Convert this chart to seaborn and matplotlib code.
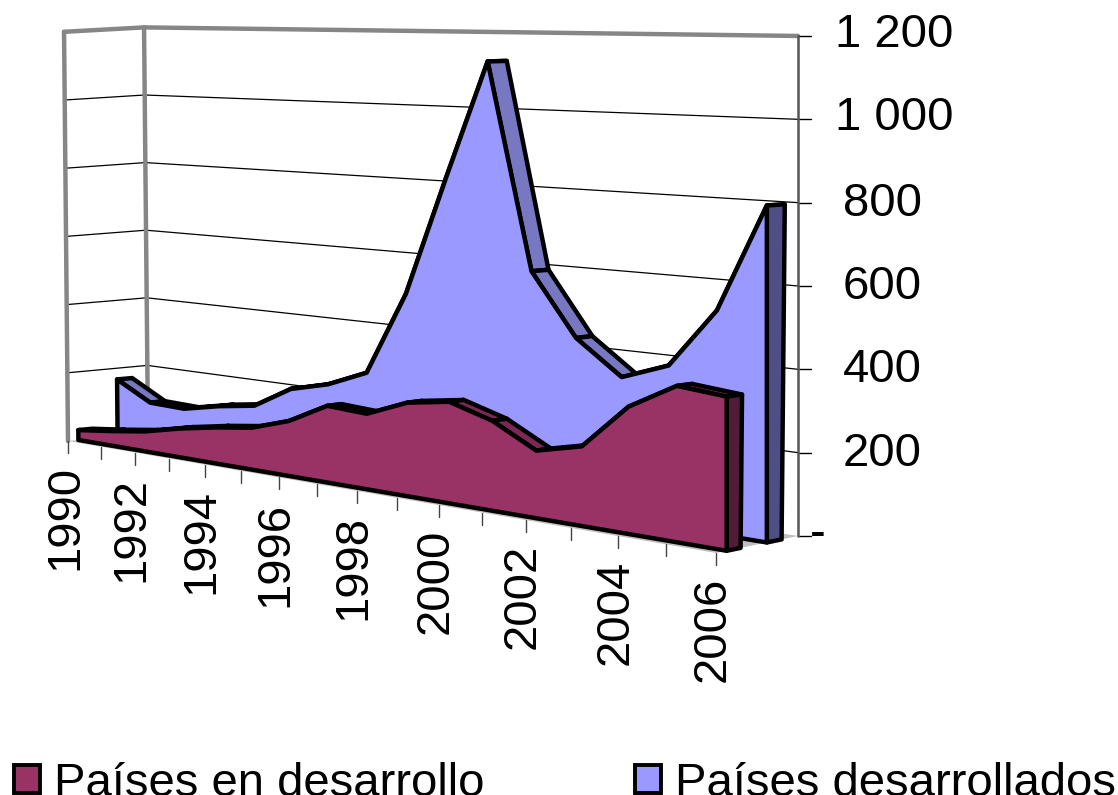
"""
Inversion extranjera: paises en desarrollo y desarrollados (area 3D estilo Excel).
"""

import numpy as np
import matplotlib
matplotlib.use('Agg')
import matplotlib.pyplot as plt
from matplotlib.patches import Patch, Polygon
import seaborn as sns

# -------------------------------------------------------------------
# 1. DATA
# -------------------------------------------------------------------
years = list(range(1990, 2007))
developing = [29, 42, 57, 81, 100, 115, 149, 205, 199, 243, 260, 227, 168, 195, 307, 371, 360]
developed = [167, 113, 110, 132, 148, 209, 236, 281, 504, 820, 1127, 594, 436, 351, 393, 539, 799]
value_ticks = [0, 200, 400, 600, 800, 1000, 1200]
value_labels = ['-', '200', '400', '600', '800', '1 000', '1 200']
series_names = ['Países en desarrollo', 'Países desarrollados']

PURPLE = '#993366'
PURPLE_TOP = '#7a2952'
PURPLE_END = '#521c38'
BLUE = '#9999ff'
BLUE_TOP = '#7777c2'
BLUE_END = '#4f4f85'
WALL = '#868686'
FONT_SIZE = 34

# -------------------------------------------------------------------
# 2. CANVAS + 3D PROJECTION
# -------------------------------------------------------------------
sns.set_theme(style='white')
plt.rcParams['font.family'] = ['Liberation Sans', 'DejaVu Sans']

fig = plt.figure(figsize=(11.18, 7.95), dpi=100)
ax = fig.add_axes([0, 0, 1, 1])


def project(year, value, depth):
    # year -> perspective position along the floor, depth 0 = front, 1 = back
    t = (np.asarray(year, dtype=float) - 1990) / 16
    s = t / (1 + 0.245 * (1 - t))
    x0 = 68 + 80 * depth
    y0 = 441 - 8 * depth
    x1 = 716 + 82 * depth
    y1 = 553 - 17 * depth
    left_scale = 0.341 - 0.003 * depth
    right_scale = 0.43 - 0.0133 * depth
    value = np.asarray(value, dtype=float)
    x = x0 + (x1 - x0) * s - value * 0.0033 * (1 - s)
    y = y0 + (y1 - y0) * s - value * (left_scale + (right_scale - left_scale) * s)
    return x, y


def quad(points, color, lw=3.2, zorder=3):
    ax.add_patch(Polygon(points, closed=True, facecolor=color, edgecolor='black',
                         linewidth=lw, joinstyle='round', zorder=zorder))


def line(xs, ys, color='black', lw=0.9, zorder=1):
    sns.lineplot(x=xs, y=ys, color=color, linewidth=lw, ax=ax, sort=False,
                 estimator=None, errorbar=None, zorder=zorder)


# -------------------------------------------------------------------
# 3. WALLS, FLOOR, GRID
# -------------------------------------------------------------------
top = value_ticks[-1]
y_first, y_last = years[0], years[-1]

corner = [project(y_first, 0, 0), project(y_first, 0, 1), project(y_last, 0, 1), project(y_last, 0, 0)]
ax.add_patch(Polygon(corner, closed=True, facecolor='#c0c0c0', edgecolor='none', zorder=1))

for v in value_ticks[1:-1]:
    a = project(y_first, v, 0)
    b = project(y_first, v, 1)
    c = project(y_last, v, 1)
    line([a[0], b[0], c[0]], [a[1], b[1], c[1]])

# gray frame of left and back walls
for d in (0, 1):
    a = project(y_first, 0, d)
    b = project(y_first, top, d)
    line([a[0], b[0]], [a[1], b[1]], color=WALL, lw=3.2)
a = project(y_first, top, 0)
b = project(y_first, top, 1)
c = project(y_last, top, 1)
line([a[0], b[0], c[0]], [a[1], b[1], c[1]], color=WALL, lw=3.2)

# right value axis
a = project(y_last, 0, 1)
b = project(y_last, top, 1)
line([a[0], b[0]], [a[1], b[1]], color='#555555', lw=1.8, zorder=2)
for v, label in zip(value_ticks, value_labels):
    xr, yr = project(y_last, v, 1)
    line([xr, xr + 13], [yr, yr], lw=1)
    if label == '-':
        ax.text(xr + 12, yr - 1, label, fontsize=FONT_SIZE, ha='left', va='center', color='black')
    elif ' ' in label:
        ax.text(835, yr - 1, label, fontsize=FONT_SIZE, ha='left', va='center', color='black')
    else:
        ax.text(843, yr + 1, label, fontsize=FONT_SIZE, ha='left', va='center', color='black')

# -------------------------------------------------------------------
# 4. AREA SERIES (back to front)
# -------------------------------------------------------------------
yrs = np.array(years)


def draw_area(values, d_front, d_back, face, top_face, end_face, z):
    xf, yf = project(yrs, values, d_front)
    xb, yb = project(yrs, values, d_back)
    # the extruded back edge spreads a little with height
    xb = xb + np.asarray(values) * 0.004
    for i in range(len(yrs) - 1):
        quad([(xf[i], yf[i]), (xf[i + 1], yf[i + 1]), (xb[i + 1], yb[i + 1]), (xb[i], yb[i])],
             top_face, zorder=z)
    bf = project(yrs[-1], 0, d_front)
    bb = project(yrs[-1], 0, d_back)
    quad([(xf[-1], yf[-1]), (xb[-1], yb[-1]), bb, bf], end_face, zorder=z)
    x0, y0 = project(yrs[0], 0, d_front)
    pts = [(x0, y0)] + list(zip(xf, yf)) + [bf]
    quad(pts, face, zorder=z + 1)


draw_area(developed, 0.62, 0.80, BLUE, BLUE_TOP, BLUE_END, 3)
draw_area(developing, 0.13, 0.30, PURPLE, PURPLE_TOP, PURPLE_END, 5)

# -------------------------------------------------------------------
# 5. CATEGORY AXIS
# -------------------------------------------------------------------
for year in years:
    xt, yt = project(year, 0, 0)
    line([xt, xt], [yt, yt + 12], color='#444444', lw=1, zorder=2)
    if (year - y_first) % 2 == 0:
        ax.text(xt - 3, yt + 24, str(year), rotation=90, fontsize=FONT_SIZE, ha='center', va='top', color='black')

# -------------------------------------------------------------------
# 6. LEGEND + LIMITS
# -------------------------------------------------------------------
handles = [Patch(facecolor=PURPLE, edgecolor='black', linewidth=2.8),
           Patch(facecolor=BLUE, edgecolor='black', linewidth=2.8)]
fig.legend(handles, series_names, loc='lower left', bbox_to_anchor=(0.0125, -0.0135), ncol=2,
           frameon=False, fontsize=FONT_SIZE, labelcolor='black', handlelength=0.55, handleheight=0.55,
           handletextpad=0.3, columnspacing=3.18, borderpad=0, borderaxespad=0)

ax.set_xlim(0, 1118)
ax.set_ylim(795, 0)
ax.axis('off')

plt.savefig('out.png', dpi=100)
